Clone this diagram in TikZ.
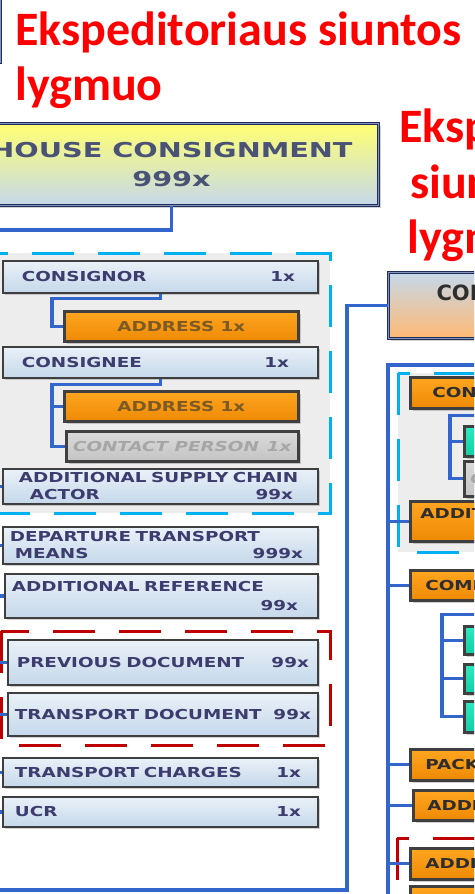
\documentclass[tikz,border=0pt]{standalone}
\usepackage{fontspec}
\usetikzlibrary{shadows}

\newfontfamily\titlefont{Carlito}
\newfontfamily\boxfont[FakeStretch=1.34]{DejaVu Sans}
\newfontfamily\headfont[FakeStretch=1.4]{DejaVu Sans}

\definecolor{conblue}{HTML}{3366CC}
\definecolor{dashcyan}{HTML}{00B0F0}
\definecolor{dashred}{HTML}{C00000}
\definecolor{navyd}{HTML}{1F2D5C}
\definecolor{navylt}{HTML}{8494BA}
\definecolor{boxline}{HTML}{3F3F3F}
\definecolor{boxtext}{HTML}{3C3C6E}
\definecolor{hctext}{HTML}{4A5275}
\definecolor{lbtop}{HTML}{EAF1F8}
\definecolor{lbbot}{HTML}{C5D8EA}
\definecolor{ortop}{HTML}{FFA51F}
\definecolor{orbot}{HTML}{EE8A05}
\definecolor{ortext}{HTML}{7C5A26}
\definecolor{darktext}{HTML}{2E2E2E}
\definecolor{tealtop}{HTML}{30E8C0}
\definecolor{tealbot}{HTML}{12CFA5}
\definecolor{greytop}{HTML}{DADADA}
\definecolor{greybot}{HTML}{C4C4C4}
\definecolor{cptext}{HTML}{A6A6A6}
\definecolor{groupgrey}{HTML}{EDEDED}

\newcommand{\boxrow}[2]{\leavevmode\hbox to\linewidth{#1\hfill#2}}

\tikzset{
  conn/.style={draw=conblue, line width=3.2pt},
  cyandash/.style={draw=dashcyan, line width=3pt, dash pattern=on 42pt off 24pt},
  reddash/.style={draw=dashred, line width=3pt, dash pattern=on 42pt off 24pt},
  boxshadow/.style={drop shadow={shadow xshift=2.5pt, shadow yshift=-2.5pt, opacity=.3, fill=black!60}},
  headtext/.style={text=red, inner sep=0pt, anchor=base west,
    font=\titlefont\bfseries\fontsize{48pt}{55pt}\selectfont},
  lbox/.style={boxshadow, draw=boxline, line width=1.8pt, top color=lbtop, bottom color=lbbot,
    anchor=north west, inner ysep=2pt, align=left, text=boxtext,
    font=\boxfont\bfseries\fontsize{13.7pt}{17pt}\selectfont},
  obox/.style={boxshadow, draw=boxline, line width=2.6pt, top color=ortop, bottom color=orbot,
    anchor=north west, inner ysep=2pt, align=left, text=ortext,
    font=\boxfont\bfseries\fontsize{13.7pt}{17pt}\selectfont},
  tbox/.style={boxshadow, draw=boxline, line width=2.6pt, top color=tealtop, bottom color=tealbot,
    anchor=north west, minimum width=257},
  gbox/.style={boxshadow, draw=boxline, line width=2.6pt, top color=greytop, bottom color=greybot,
    anchor=north west, inner ysep=2pt, align=left, text=cptext,
    font=\boxfont\bfseries\itshape\fontsize{13.7pt}{17pt}\selectfont},
  hcbox/.style={boxshadow, draw=navyd, line width=1pt, double=navylt, double distance=1.5pt,
    top color=yellow!55, bottom color=lbbot, anchor=north west, align=center, text=hctext,
    font=\headfont\bfseries\fontsize{20.5pt}{29pt}\selectfont}
}

\begin{document}
\begin{tikzpicture}[x=1pt,y=-1pt]
\useasboundingbox (0,0) rectangle (474,894);
\clip (0,0) rectangle (474,894);

% groups
\draw[cyandash, fill=groupgrey] (-16,253) rectangle (330,513);
\draw[reddash, fill=white] (1,631) rectangle (330,745);
\draw[cyandash, fill=groupgrey] (398,373) rectangle (720,552);
\draw[reddash, fill=white] (397,838) rectangle (720,950);

\node[draw=navyd, line width=1pt, double=navylt, double distance=1.5pt, fill=lbtop,
  minimum width=80, minimum height=80, anchor=south east] (mcons) at (1,63) {};

% headings
\node[headtext] (headA) at (15,45) {Ekspeditoriaus siuntos};
\node[headtext] (headB) at (15,100) {lygmuo};
\node[headtext] (headC) at (399,142) {Ekspeditoriaus};
\node[headtext] (headD) at (410,198) {siuntos};
\node[headtext] (headE) at (407,253) {lygmuo};

% house consignment level
\node[hcbox, minimum width=414, minimum height=82] (hcons) at (-36,123) {HOUSE CONSIGNMENT\\999x};

\node[lbox, text width=277, inner xsep=19, minimum height=32] (cnor) at (2,260) {\boxrow{CONSIGNOR}{1x\hspace*{4pt}}};
\node[obox, minimum width=234, minimum height=30, align=center] (addr1) at (63,310) {ADDRESS 1x};
\node[lbox, text width=277, inner xsep=19, minimum height=31] (cnee) at (2,346) {\boxrow{CONSIGNEE}{1x\hspace*{10pt}}};
\node[obox, minimum width=234, minimum height=30, align=center] (addr2) at (63,390) {ADDRESS 1x};
\node[gbox, minimum width=232, minimum height=30, align=center] (cperson) at (65,430) {CONTACT PERSON\hspace{8pt}1x};
\node[lbox, text width=283, inner xsep=16, minimum height=35] (asca) at (2,468) {\boxrow{ADDITIONAL SUPPLY CHAIN}{}\\\boxrow{\hspace*{11pt}ACTOR}{99x\hspace*{9pt}}};
\node[lbox, text width=301, inner xsep=7, minimum height=37] (dtm) at (2,526) {\boxrow{DEPARTURE TRANSPORT}{}\\\boxrow{\hspace*{5pt}MEANS}{999x\hspace*{8pt}}};
\node[lbox, text width=299, inner xsep=7, minimum height=44,
  font=\boxfont\bfseries\fontsize{13.7pt}{19pt}\selectfont] (aref) at (4,573) {\boxrow{ADDITIONAL REFERENCE}{}\\\boxrow{}{99x\hspace*{13pt}}};
\node[lbox, text width=292, inner xsep=9, minimum height=45] (pdoc) at (7,639) {\boxrow{PREVIOUS DOCUMENT}{99x}};
\node[lbox, text width=296, inner xsep=7, minimum height=43] (tdoc) at (7,692) {\boxrow{TRANSPORT DOCUMENT}{99x}};
\node[lbox, text width=291, inner xsep=12, minimum height=29] (tchg) at (2,757) {\boxrow{TRANSPORT CHARGES}{1x\hspace*{5pt}}};
\node[lbox, text width=291, inner xsep=12, minimum height=30] (ucr) at (2,796) {\boxrow{UCR}{1x\hspace*{5pt}}};

% consignment item level
\node[draw=navyd, line width=1pt, double=navylt, double distance=1.5pt, boxshadow,
  top color=lbbot, bottom color=orange!55!white, anchor=north west,
  minimum width=332, minimum height=66, text width=236, inner xsep=48, align=left,
  text depth=24.7pt, text=darktext, font=\fontspec{DejaVu Sans Bold}\fontsize{21pt}{25pt}\selectfont]
  (cons) at (388,272) {\boxrow{CONSIGNMENT ITEM}{}};

\node[obox, text=darktext, text width=267, inner xsep=22, minimum height=31] (rcon) at (409,376) {\boxrow{CONSIGNEE}{}};
\node[tbox, minimum height=30] (radr) at (463,425) {};
\node[gbox, text width=245, inner xsep=6, minimum height=35] (rcp) at (463,460) {\boxrow{CONTACT PERSON\hspace{8pt}1x}{}};
\node[obox, text=darktext, text width=291, inner xsep=10, minimum height=40, text depth=16pt] (raddi) at (409,500) {\boxrow{ADDITIONAL SUPPLY CHAIN ACTOR}{}};
\node[obox, text=darktext, text width=281, inner xsep=15, minimum height=30] (rcom) at (409,569) {\boxrow{COMMODITY}{}};
\node[tbox, minimum height=28] (rc1) at (463,625) {};
\node[tbox, minimum height=29] (rc2) at (463,663) {};
\node[tbox, minimum height=31] (rc3) at (463,700) {};
\node[obox, text=darktext, text width=281, inner xsep=15, minimum height=31] (rpack) at (409,748) {\boxrow{PACKAGING}{}};
\node[obox, text=darktext, text width=280, inner xsep=14, minimum height=30] (radd) at (412,789) {\boxrow{ADDITIONAL REFERENCE}{}};
\node[obox, text=darktext, text width=281, inner xsep=15, minimum height=31] (radoc) at (409,847) {\boxrow{ADDITIONAL DOCUMENT}{}};
\node[obox, minimum width=311, minimum height=31] (rtdoc) at (409,885) {};

% connectors
\coordinate (lturn) at (-15,230);
\coordinate (mturn) at (347,890);
\coordinate (rturn) at (388,365);
\coordinate (rend) at (388,930);

\draw[conn] (hcons.south) |- (lturn) |- (mturn) |- (cons.west);
\foreach \n in {asca,dtm,aref,pdoc,tdoc,tchg,ucr}
  \draw[conn] (\n.west -| lturn) -- (\n.west);

\draw[conn] (cnor.south) -- ++(0,5) -| ([xshift=-11pt]addr1.west) -- (addr1.west);
\draw[conn] (cnee.south) -- ++(0,6) -| ([xshift=-13pt]cperson.west) -- (cperson.west);
\draw[conn] ([xshift=-11pt]addr2.west) -- (addr2.west);

\draw[conn] (cons.south) |- (rturn) -- (rend);
\foreach \n in {raddi,rcom,rpack,radd,radoc,rtdoc}
  \draw[conn] (\n.west -| rturn) -- (\n.west);

\draw[conn] (rcon.south) -- ++(0,6) -| ([xshift=-13pt]rcp.west) -- (rcp.west);
\draw[conn] ([xshift=-13pt]radr.west) -- (radr.west);
\draw[conn] (rcom.south) -- ++(0,13) -| ([xshift=-21pt]rc3.west) -- (rc3.west);
\foreach \n in {rc1,rc2}
  \draw[conn] ([xshift=-21pt]\n.west) -- (\n.west);

\end{tikzpicture}
\end{document}
